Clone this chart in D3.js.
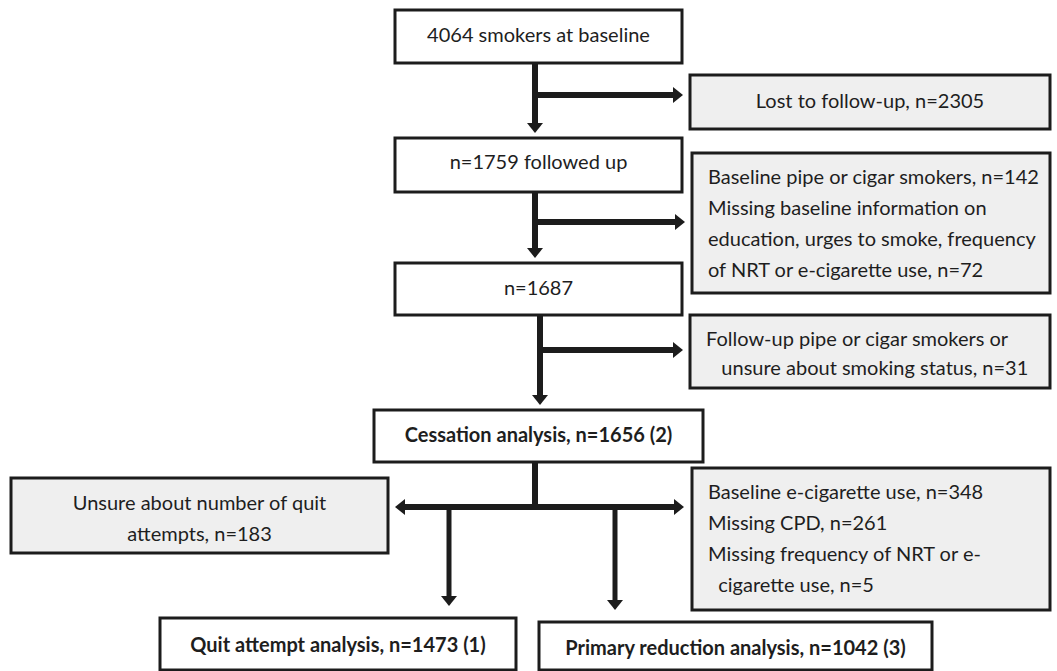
<!DOCTYPE html>
<html>
<head>
<meta charset="utf-8">
<script src="https://cdn.jsdelivr.net/npm/d3@7"></script>
<style>
  body { margin: 0; background: #fff; }
  svg { display: block; }
  .box { stroke: #1c1c1c; stroke-width: 3; }
  .box.main { fill: #fff; }
  .box.excl { fill: #efefef; }
  .label { font-family: Lato, "Open Sans", sans-serif; font-size: 20px; fill: #1e1e1e; }
  .label.bold { font-weight: bold; }
  .wire { stroke: #1c1c1c; stroke-width: 6; fill: none; }
  .head { fill: #1c1c1c; }
</style>
</head>
<body>
<svg id="chart" width="1057" height="671"></svg>
<script>
// box texts, one array of lines per box
var box_ids = ["base", "lost", "follow", "pipe", "n1687", "unsureSmk", "cess", "unsureQuit", "ecig", "quit", "primary"];
var box_lines = [
  ["4064 smokers at baseline"],
  ["Lost to follow-up, n=2305"],
  ["n=1759 followed up"],
  ["Baseline pipe or cigar smokers, n=142", "Missing baseline information on", "education, urges to smoke, frequency", "of NRT or e-cigarette use, n=72"],
  ["n=1687"],
  ["Follow-up pipe or cigar smokers or", "   unsure about smoking status, n=31"],
  ["Cessation analysis, n=1656 (2)"],
  ["Unsure about number of quit", "attempts, n=183"],
  ["Baseline e-cigarette use, n=348", "Missing CPD, n=261", "Missing frequency of NRT or e-", "  cigarette use, n=5"],
  ["Quit attempt analysis, n=1473 (1)"],
  ["Primary reduction analysis, n=1042 (3)"]
];
var box_kind = ["main", "excl", "main", "excl", "main", "excl", "main", "excl", "excl", "main", "main"];
var box_bold = [false, false, false, false, false, false, true, false, false, true, true];

// layout (pixels): x, y, w, h, text alignment, first baseline, line step
var layout = {
  base:       { x: 395, y: 10,  w: 287, h: 53,  align: "middle", base: 42,  step: 0 },
  lost:       { x: 690, y: 75,  w: 360, h: 54,  align: "middle", base: 108, step: 0 },
  follow:     { x: 395, y: 138, w: 287, h: 54,  align: "middle", base: 169, step: 0 },
  pipe:       { x: 692, y: 153, w: 358, h: 140, align: "start",  base: 184, step: 31 },
  n1687:      { x: 395, y: 263, w: 287, h: 52,  align: "middle", base: 295, step: 0 },
  unsureSmk:  { x: 690, y: 315, w: 360, h: 73,  align: "start",  base: 346, step: 29 },
  cess:       { x: 374, y: 410, w: 329, h: 52,  align: "middle", base: 442, step: 0 },
  unsureQuit: { x: 11,  y: 478, w: 377, h: 75,  align: "middle", base: 510, step: 31 },
  ecig:       { x: 692, y: 468, w: 358, h: 142, align: "start",  base: 499, step: 31 },
  quit:       { x: 160, y: 618, w: 356, h: 52,  align: "middle", base: 652, step: 0 },
  primary:    { x: 539, y: 622, w: 393, h: 48,  align: "middle", base: 655, step: 0 }
};

// connectors: trunk from one box to the next, with a side branch to an exclusion box
var links = [
  { from: "base",   to: "follow", side: "lost",      tx: 535, by: 95 },
  { from: "follow", to: "n1687",  side: "pipe",      tx: 535, by: 222 },
  { from: "n1687",  to: "cess",   side: "unsureSmk", tx: 540, by: 350 }
];
// final split below the cessation box
var split = { from: "cess", tx: 535, by: 507, left: "unsureQuit", right: "ecig",
  drops: [{ x: 449, to: "quit" }, { x: 615, to: "primary" }] };

var svg = d3.select("#chart");
var gap = 5, head_len = 10, head_half = 8;

var boxes = box_ids.map(function (id, i) {
  var l = layout[id];
  return { id: id, lines: box_lines[i], kind: box_kind[i], bold: box_bold[i],
    x: l.x, y: l.y, w: l.w, h: l.h, align: l.align, base: l.base, step: l.step };
});
var by_id = {};
boxes.forEach(function (b) { by_id[b.id] = b; });

var wires = svg.append("g");
var heads = svg.append("g");

function line(x1, y1, x2, y2) {
  return wires.append("line").attr("class", "wire")
    .attr("x1", x1).attr("y1", y1).attr("x2", x2).attr("y2", y2);
}

// arrowhead with its tip at (x, y), pointing dir
function head(x, y, dir) {
  var p;
  if (dir === "down") p = [[x, y], [x - head_half, y - head_len], [x + head_half, y - head_len]];
  if (dir === "right") p = [[x, y], [x - head_len, y - head_half], [x - head_len, y + head_half]];
  if (dir === "left") p = [[x, y], [x + head_len, y - head_half], [x + head_len, y + head_half]];
  heads.append("path").attr("class", "head").attr("d", "M" + p.join("L") + "Z");
}

links.forEach(function (k) {
  var a = by_id[k.from], b = by_id[k.to], s = by_id[k.side];
  var tip_y = b.y - gap, tip_x = s.x - 7;
  line(k.tx, a.y + a.h, k.tx, tip_y - head_len + 1);
  head(k.tx, tip_y, "down");
  line(k.tx, k.by, tip_x - head_len + 1, k.by);
  head(tip_x, k.by, "right");
});

(function () {
  var a = by_id[split.from], L = by_id[split.left], R = by_id[split.right];
  line(split.tx, a.y + a.h, split.tx, split.by + 3);
  var lx = L.x + L.w + 7, rx = R.x - 8;
  line(lx + head_len - 1, split.by, rx - head_len + 1, split.by);
  head(lx, split.by, "left");
  head(rx, split.by, "right");
  split.drops.forEach(function (d) {
    var t = by_id[d.to];
    line(d.x, split.by, d.x, t.y - 12 - head_len + 1).style("stroke-width", 5);
    head(d.x, t.y - 12, "down");
  });
})();

var g = svg.append("g").selectAll("g.node")
  .data(boxes)
  .enter()
  .append("g")
  .attr("class", "node");

g.append("rect")
  .attr("class", function (d) { return "box " + d.kind; })
  .attr("x", function (d) { return d.x; })
  .attr("y", function (d) { return d.y; })
  .attr("width", function (d) { return d.w; })
  .attr("height", function (d) { return d.h; });

g.each(function (d) {
  var t = d3.select(this).append("text")
    .attr("class", "label" + (d.bold ? " bold" : ""))
    .attr("text-anchor", d.align)
    .attr("xml:space", "preserve")
    .style("white-space", "pre");
  d.lines.forEach(function (s, i) {
    t.append("tspan")
      .attr("x", d.align === "middle" ? d.x + d.w / 2 : d.x + 16)
      .attr("y", d.base + i * d.step)
      .text(s);
  });
});
</script>
</body>
</html>
